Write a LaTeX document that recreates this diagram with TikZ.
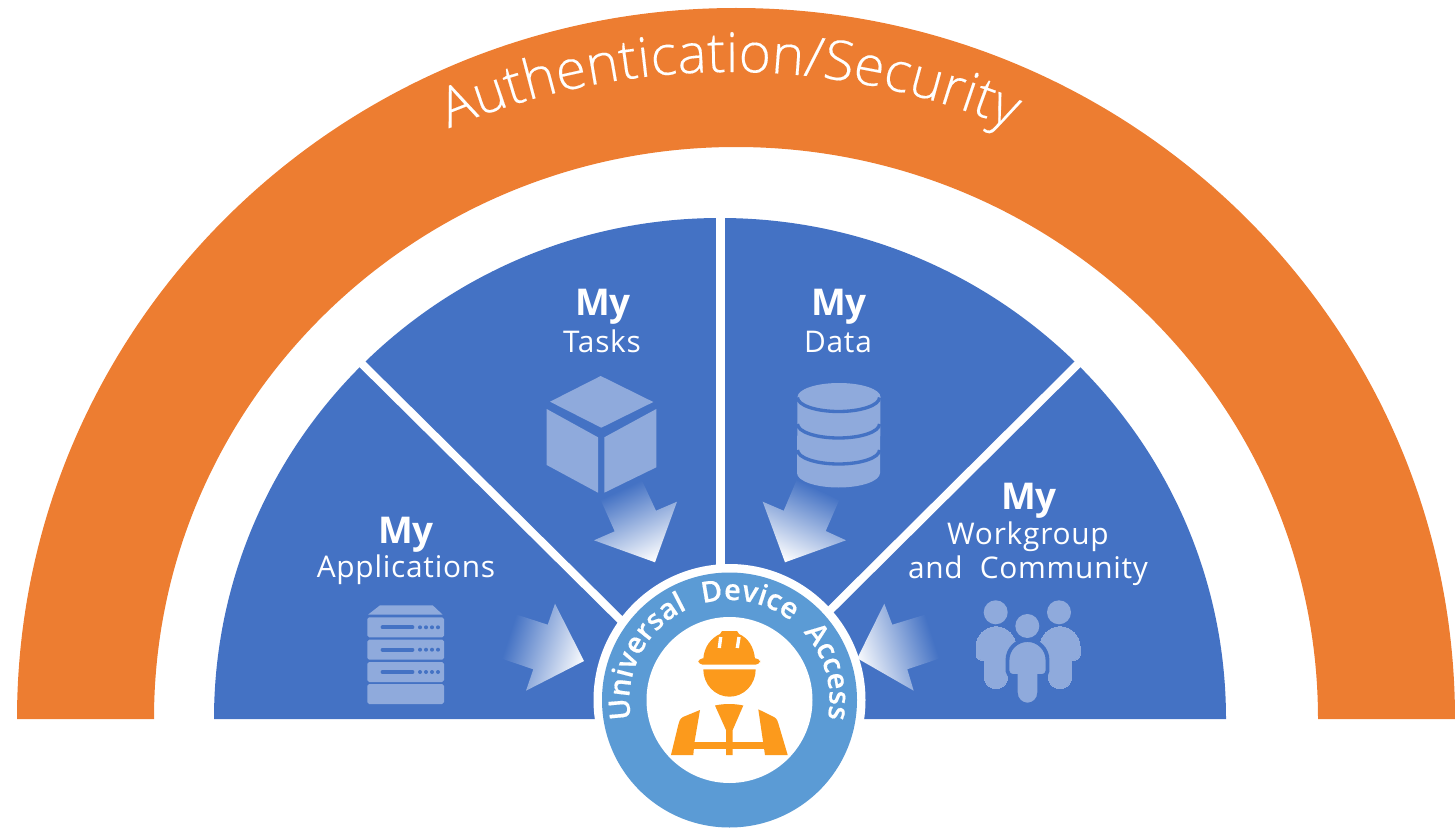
\documentclass[tikz,border=0pt]{standalone}
\usepackage{fontspec}
\usepackage{xcolor}
\usepackage{tikz}
\usetikzlibrary{decorations.text}
\setmainfont{Open Sans}
\newfontfamily\bannerfont[FakeBold=0.25]{Open Sans Light}
\newfontfamily\labelfont[LetterSpace=2.5]{Open Sans}
\newfontfamily\ringfont[LetterSpace=2,WordSpace=2,FakeBold=0.4]{Open Sans Semibold}
\definecolor{sectorblue}{HTML}{4472C4}
\definecolor{iconblue}{HTML}{8FAADC}
\definecolor{ringblue}{HTML}{5B9BD5}
\definecolor{bannerorange}{HTML}{ED7D31}
\definecolor{workerorange}{HTML}{FC9A1C}
\pgfdeclareverticalshading{arrowfade}{100bp}{color(0bp)=(white); color(23bp)=(white); color(71bp)=(sectorblue); color(100bp)=(sectorblue)}
\tikzset{
  gapline/.style={white, line width=4.6pt},
  myhead/.style={anchor=base, white, font=\fontsize{21}{24}\selectfont\bfseries},
  mylabel/.style={anchor=base, white, font=\fontsize{17}{20}\selectfont\labelfont},
  flowarrow/.style={shading=arrowfade, shading angle=#1},
  slotline/.style={sectorblue, line width=2.2pt, line cap=round},
  dbline/.style={sectorblue, line width=1.9pt},
  hatnotch/.style={white, line width=1.9pt}
}
\newcommand{\crewmate}[4]{
  \filldraw[fill=iconblue, #4] ({#1-20},{#2+20}) arc (180:360:20) -- ({#1+20},{#3-5}) arc (0:90:5)
    -- ({#1+11.7},#3) -- ({#1+11.7},{#3+17}) arc (0:180:11.7) -- ({#1-11.7},#3) -- ({#1-15},#3)
    arc (90:180:5) -- cycle;
}
\begin{document}
\begin{tikzpicture}[x=0.02cm, y=-0.02cm]
    \useasboundingbox (0,0) rectangle (1455,828);
    \coordinate (SC) at (720.5, 719);
    \coordinate (UC) at (729.5, 700);
    \fill[bannerorange] (17,719) arc (180:360:719 and 711) -- (1318,719) arc (360:180:582 and 572) -- cycle;
    \path[decorate, decoration={text along path, text align=center,
        text={|\fontsize{31.4}{36}\selectfont\bannerfont\color{white}|Authentication/Security}}]
        (4,798) arc (180:360:726);
    \fill[sectorblue] (214,719) arc (180:360:506 and 501) -- cycle;
    \draw[gapline] (SC) -- (720.5,205);
    \draw[gapline] (SC) -- (352,354);
    \draw[gapline] (SC) -- (1088,354);
    \shade[flowarrow=25] (600.7,500) -- (641.7,480) -- (656,510.7) -- (677,501.7) -- (655,562.3) -- (594,540.3) -- (614.7,531.3) -- cycle;
    \shade[flowarrow=-25] (796.7,480) -- (839.3,500) -- (825.7,531) -- (846,540.3) -- (785,562.3) -- (762.7,501.7) -- (783.7,510.7) -- cycle;
    \shade[flowarrow=72] (515.7,614.3) -- (547.7,624.7) -- (555,603.7) -- (584,661) -- (526,690.7) -- (533.3,669.3) -- (500.7,658.3) -- cycle;
    \shade[flowarrow=-72] (857.3,658.3) -- (884.3,603.7) -- (892.3,624.7) -- (927.3,614) -- (940,658.3) -- (907.3,669.3) -- (913.7,690.7) -- cycle;
    % labels
    \node[myhead] (mytasks) at (603,316) {My};
    \node[mylabel] (tasks) at (602,352) {Tasks};
    \node[myhead] (mydata) at (839,316) {My};
    \node[mylabel] (data) at (838,352) {Data};
    \node[myhead] (myapps) at (406,543) {My};
    \node[mylabel] (apps) at (406,577) {Applications};
    \node[myhead] (mygroup) at (1029,509) {My};
    \node[mylabel] (group) at (1028,544) {Workgroup};
    \node[mylabel] (community) at (1028,578) {and\ \ Community};
    % cube
    \fill[iconblue] (600.7,376) -- (653.3,402) -- (601.3,427.7) -- (550,401.7) -- cycle;
    \fill[iconblue] (546.7,409) -- (598,437.3) -- (598,492.7) -- (546.7,465) -- cycle;
    \fill[iconblue] (604.3,437.3) -- (656.3,409) -- (656.3,467.3) -- (604.3,492.7) -- cycle;
    % database
    \fill[iconblue] (797.5,397) arc (180:360:41.5 and 14) -- (880,473) arc (0:180:41.5 and 14.5) -- cycle;
    \draw[dbline] (797.5,397.5) arc (180:0:41 and 14);
    \draw[dbline] (797.5,424) arc (180:0:41 and 14);
    \draw[dbline] (797.5,450) arc (180:0:41 and 14);
    % server
    \fill[iconblue] (380,605.3) -- (432.7,605.3) -- (442.7,614.7) -- (368,614.7) -- cycle;
    \foreach \y in {617.3, 639.7, 662} {
        \fill[iconblue, rounded corners=1pt] (367.3,\y) rectangle (444,\y+20);
        \draw[slotline] (382.5,\y+10) -- (412.5,\y+10);
        \foreach \x in {420, 426, 432, 438}
            \fill[sectorblue] (\x,\y+10) circle (2);
    }
    \fill[iconblue, rounded corners=1pt] (367.3,684) rectangle (444,704);
    % people
    \fill[iconblue] (995.7,612.3) circle (12);
    \fill[iconblue] (1059,612.3) circle (12);
    \fill[iconblue] (1027.3,626) circle (12);
    \crewmate{996}{626.7}{660}{draw=iconblue, line width=0pt}
    \crewmate{1060}{626.7}{660}{draw=iconblue, line width=0pt}
    \crewmate{1027.5}{640}{676}{draw=sectorblue, line width=2.2pt}
    % device ring
    \fill[white] (UC) circle (136);
    \fill[ringblue] (UC) circle (127.5);
    \fill[white] (UC) circle (83);
    \path[decorate, decoration={text along path, text align={fit to path},
        text={|\fontsize{16.5}{20}\selectfont\ringfont\color{white}|Universal Device Access}}]
        (UC) ++(169:100) arc (169:371:100);
    % worker
    \fill[workerorange] (703.3,659) .. controls (704,647) and (711,638) .. (720,634) -- (722,631) -- (737,631) -- (739,634) .. controls (748,638) and (754,647) .. (755,659) -- cycle;
    \fill[workerorange, rounded corners=2.5pt] (698.3,658.3) rectangle (760,664.7);
    \draw[hatnotch] (720.7,637) -- (719.3,648);
    \draw[hatnotch] (739,637) -- (737.3,648);
    \fill[workerorange] (703.3,669.3) arc (180:0:26.2 and 27.4) -- cycle;
    \fill[workerorange] (700,710) -- (683,717) .. controls (680,719) and (679,721) .. (678.5,724) -- (671,755) -- (693.3,755) -- (694.5,742) -- cycle;
    \fill[workerorange] (758.3,709.3) -- (774,717) .. controls (777,719) and (778,721) .. (778.5,724) -- (787.7,755) -- (765,755) -- cycle;
    \fill[workerorange] (693.8,742.3) rectangle (765,749);
    \fill[workerorange] (715,705.5) .. controls (724,703.5) and (734,703.5) .. (743.3,705.5) -- (732.7,730) -- (732.7,755) -- (726,755) -- (726,730) -- cycle;
\end{tikzpicture}
\end{document}
